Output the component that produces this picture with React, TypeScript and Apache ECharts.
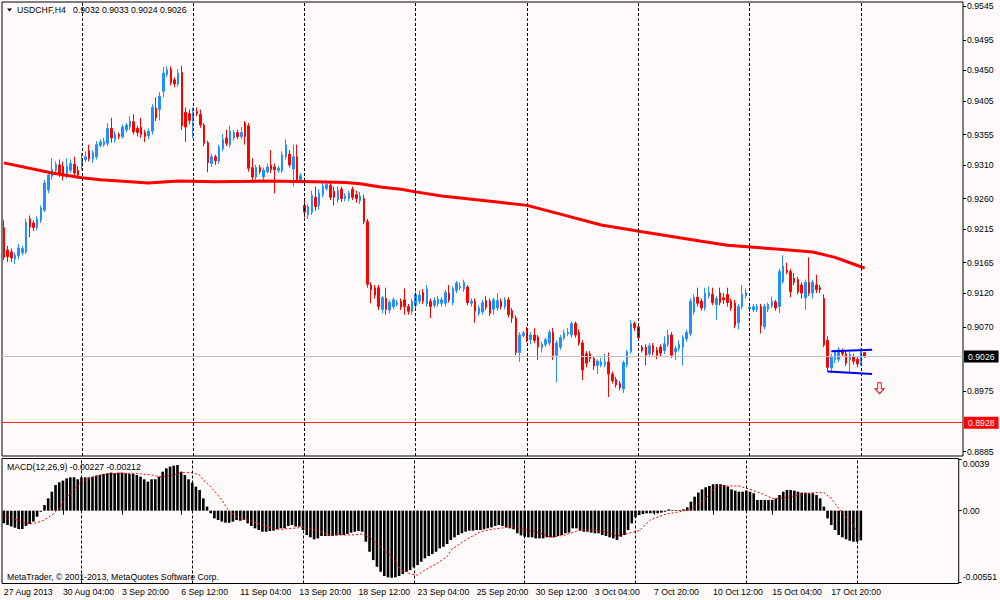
import React, { useEffect, useRef } from "react";
import * as echarts from "echarts";

const FONT = "'Liberation Sans', Arial, sans-serif";
const FS = 8.7;

// bars: [open, high, low, close]
const candles: number[][] = [
  [0.9217,0.9228,0.9169,0.9173],[0.9184,0.9190,0.9166,0.9174],[0.9181,0.9186,0.9166,0.9172],[0.9171,0.9180,0.9163,0.9176],[0.9175,0.9193,0.9170,0.9187],
  [0.9180,0.9190,0.9176,0.9186],[0.9181,0.9230,0.9178,0.9225],[0.9230,0.9235,0.9203,0.9218],[0.9224,0.9228,0.9212,0.9217],[0.9217,0.9234,0.9213,0.9230],
  [0.9228,0.9250,0.9224,0.9246],[0.9243,0.9288,0.9240,0.9283],[0.9273,0.9300,0.9268,0.9295],[0.9293,0.9320,0.9288,0.9303],[0.9302,0.9315,0.9298,0.9311],
  [0.9310,0.9318,0.9292,0.9298],[0.9308,0.9315,0.9287,0.9293],[0.9297,0.9320,0.9290,0.9308],[0.9302,0.9318,0.9298,0.9312],[0.9311,0.9322,0.9294,0.9298],
  [0.9302,0.9308,0.9290,0.9295],[0.9308,0.9328,0.9303,0.9320],[0.9318,0.9330,0.9314,0.9322],[0.9331,0.9340,0.9315,0.9319],[0.9319,0.9332,0.9313,0.9328],
  [0.9322,0.9345,0.9318,0.9340],[0.9339,0.9348,0.9336,0.9344],[0.9340,0.9350,0.9337,0.9345],[0.9342,0.9372,0.9338,0.9364],[0.9364,0.9380,0.9343,0.9350],
  [0.9348,0.9360,0.9343,0.9355],[0.9355,0.9358,0.9348,0.9352],[0.9352,0.9370,0.9349,0.9366],[0.9362,0.9372,0.9358,0.9369],[0.9366,0.9382,0.9362,0.9375],
  [0.9374,0.9385,0.9355,0.9359],[0.9364,0.9368,0.9352,0.9358],[0.9366,0.9380,0.9350,0.9355],[0.9358,0.9362,0.9344,0.9352],[0.9353,0.9364,0.9348,0.9360],
  [0.9360,0.9400,0.9355,0.9395],[0.9394,0.9410,0.9375,0.9380],[0.9392,0.9418,0.9376,0.9412],[0.9419,0.9455,0.9410,0.9446],[0.9444,0.9456,0.9440,0.9451],
  [0.9452,0.9456,0.9428,0.9432],[0.9436,0.9440,0.9425,0.9430],[0.9430,0.9452,0.9426,0.9446],[0.9447,0.9457,0.9362,0.9368],[0.9388,0.9395,0.9344,0.9366],
  [0.9386,0.9392,0.9370,0.9376],[0.9377,0.9395,0.9350,0.9388],[0.9389,0.9395,0.9382,0.9386],[0.9385,0.9392,0.9365,0.9369],[0.9369,0.9372,0.9338,0.9342],
  [0.9343,0.9346,0.9299,0.9313],[0.9312,0.9326,0.9307,0.9322],[0.9322,0.9325,0.9310,0.9316],[0.9316,0.9340,0.9312,0.9336],[0.9334,0.9356,0.9330,0.9348],
  [0.9350,0.9362,0.9338,0.9342],[0.9340,0.9368,0.9336,0.9360],[0.9350,0.9362,0.9346,0.9358],[0.9358,0.9362,0.9348,0.9352],[0.9352,0.9366,0.9348,0.9358],
  [0.9372,0.9375,0.9340,0.9352],[0.9368,0.9372,0.9300,0.9305],[0.9306,0.9320,0.9283,0.9292],[0.9292,0.9310,0.9288,0.9306],[0.9306,0.9310,0.9296,0.9300],
  [0.9292,0.9306,0.9288,0.9302],[0.9300,0.9312,0.9297,0.9307],[0.9310,0.9332,0.9298,0.9303],[0.9307,0.9312,0.9268,0.9303],[0.9302,0.9309,0.9298,0.9305],
  [0.9301,0.9330,0.9298,0.9325],[0.9322,0.9348,0.9318,0.9340],[0.9326,0.9332,0.9306,0.9310],[0.9304,0.9340,0.9278,0.9322],[0.9322,0.9340,0.9283,0.9288],
  [0.9287,0.9298,0.9283,0.9294],[0.9250,0.9258,0.9232,0.9240],[0.9236,0.9252,0.9230,0.9248],[0.9240,0.9272,0.9236,0.9265],[0.9262,0.9278,0.9242,0.9248],
  [0.9250,0.9274,0.9244,0.9268],[0.9266,0.9284,0.9262,0.9278],[0.9275,0.9285,0.9272,0.9281],[0.9280,0.9285,0.9258,0.9262],[0.9271,0.9278,0.9250,0.9262],
  [0.9258,0.9278,0.9254,0.9272],[0.9274,0.9278,0.9255,0.9260],[0.9260,0.9268,0.9256,0.9264],[0.9260,0.9272,0.9256,0.9268],[0.9274,0.9278,0.9258,0.9262],
  [0.9266,0.9272,0.9254,0.9260],[0.9257,0.9270,0.9252,0.9264],[0.9260,0.9266,0.9222,0.9226],[0.9226,0.9230,0.9128,0.9133],[0.9132,0.9136,0.9105,0.9125],
  [0.9128,0.9132,0.9112,0.9117],[0.9128,0.9132,0.9095,0.9100],[0.9096,0.9116,0.9090,0.9113],[0.9112,0.9128,0.9088,0.9096],[0.9095,0.9110,0.9090,0.9106],
  [0.9100,0.9114,0.9096,0.9110],[0.9103,0.9110,0.9100,0.9106],[0.9108,0.9112,0.9095,0.9099],[0.9110,0.9127,0.9088,0.9100],[0.9100,0.9104,0.9088,0.9093],
  [0.9093,0.9112,0.9088,0.9108],[0.9102,0.9122,0.9098,0.9118],[0.9108,0.9124,0.9104,0.9117],[0.9121,0.9126,0.9104,0.9108],[0.9104,0.9132,0.9100,0.9126],
  [0.9108,0.9112,0.9083,0.9100],[0.9102,0.9114,0.9098,0.9109],[0.9104,0.9116,0.9100,0.9111],[0.9105,0.9114,0.9100,0.9110],[0.9105,0.9125,0.9100,0.9121],
  [0.9120,0.9132,0.9106,0.9110],[0.9106,0.9130,0.9102,0.9127],[0.9124,0.9138,0.9120,0.9135],[0.9128,0.9136,0.9124,0.9130],[0.9126,0.9140,0.9122,0.9136],
  [0.9129,0.9132,0.9102,0.9106],[0.9105,0.9112,0.9100,0.9108],[0.9108,0.9112,0.9076,0.9093],[0.9090,0.9102,0.9086,0.9098],[0.9092,0.9110,0.9088,0.9106],
  [0.9109,0.9116,0.9095,0.9099],[0.9108,0.9112,0.9086,0.9090],[0.9096,0.9113,0.9088,0.9110],[0.9098,0.9120,0.9094,0.9109],[0.9108,0.9112,0.9096,0.9100],
  [0.9100,0.9114,0.9096,0.9110],[0.9110,0.9114,0.9084,0.9088],[0.9094,0.9098,0.9076,0.9083],[0.9083,0.9087,0.9028,0.9032],[0.9032,0.9062,0.9018,0.9058],
  [0.9057,0.9064,0.9054,0.9061],[0.9066,0.9070,0.9047,0.9051],[0.9051,0.9062,0.9044,0.9058],[0.9058,0.9068,0.9046,0.9050],[0.9055,0.9058,0.9021,0.9040],
  [0.9039,0.9048,0.9032,0.9044],[0.9044,0.9054,0.9040,0.9051],[0.9046,0.9066,0.9042,0.9062],[0.9062,0.9068,0.9021,0.9028],[0.9028,0.9050,0.8988,0.9046],
  [0.9040,0.9058,0.9036,0.9054],[0.9053,0.9066,0.9050,0.9061],[0.9060,0.9068,0.9056,0.9062],[0.9058,0.9078,0.9054,0.9075],[0.9075,0.9078,0.9054,0.9058],
  [0.9062,0.9066,0.9042,0.9046],[0.9046,0.9050,0.8991,0.9006],[0.9030,0.9034,0.9010,0.9016],[0.9030,0.9034,0.9018,0.9023],[0.9023,0.9026,0.9006,0.9012],
  [0.9013,0.9022,0.9000,0.9019],[0.9013,0.9024,0.9010,0.9018],[0.9014,0.9030,0.9010,0.9018],[0.9018,0.9032,0.8966,0.9000],[0.9000,0.9004,0.8986,0.8990],
  [0.8992,0.8996,0.8980,0.8984],[0.8986,0.8990,0.8976,0.8980],[0.8978,0.9020,0.8972,0.9017],[0.9014,0.9036,0.9010,0.9033],[0.9033,0.9080,0.9030,0.9075],
  [0.9075,0.9078,0.9064,0.9069],[0.9070,0.9074,0.9050,0.9054],[0.9040,0.9043,0.9032,0.9035],[0.9040,0.9044,0.9013,0.9028],[0.9030,0.9046,0.9026,0.9042],
  [0.9042,0.9046,0.9028,0.9033],[0.9036,0.9040,0.9022,0.9028],[0.9040,0.9044,0.9026,0.9031],[0.9035,0.9056,0.9030,0.9045],[0.9044,0.9066,0.9040,0.9058],
  [0.9058,0.9062,0.9024,0.9028],[0.9033,0.9042,0.9021,0.9038],[0.9038,0.9050,0.9034,0.9044],[0.9040,0.9058,0.9013,0.9054],[0.9052,0.9066,0.9048,0.9062],
  [0.9060,0.9112,0.9056,0.9108],[0.9092,0.9118,0.9088,0.9114],[0.9114,0.9128,0.9100,0.9105],[0.9108,0.9112,0.9094,0.9098],[0.9098,0.9128,0.9094,0.9120],
  [0.9116,0.9130,0.9112,0.9121],[0.9118,0.9128,0.9102,0.9106],[0.9103,0.9116,0.9080,0.9112],[0.9120,0.9128,0.9102,0.9106],[0.9113,0.9120,0.9104,0.9110],
  [0.9118,0.9128,0.9100,0.9106],[0.9108,0.9112,0.9094,0.9098],[0.9105,0.9110,0.9068,0.9072],[0.9076,0.9104,0.9066,0.9100],[0.9100,0.9132,0.9096,0.9118],
  [0.9116,0.9127,0.9112,0.9121],[0.9097,0.9104,0.9092,0.9099],[0.9095,0.9104,0.9092,0.9100],[0.9096,0.9104,0.9092,0.9100],[0.9100,0.9104,0.9060,0.9072],
  [0.9070,0.9104,0.9066,0.9100],[0.9096,0.9106,0.9092,0.9103],[0.9101,0.9115,0.9098,0.9108],[0.9107,0.9110,0.9094,0.9098],[0.9100,0.9156,0.9090,0.9152],
  [0.9137,0.9176,0.9134,0.9160],[0.9154,0.9165,0.9148,0.9151],[0.9152,0.9156,0.9114,0.9122],[0.9142,0.9150,0.9132,0.9136],[0.9140,0.9144,0.9118,0.9122],
  [0.9132,0.9136,0.9112,0.9120],[0.9113,0.9140,0.9095,0.9136],[0.9136,0.9173,0.9116,0.9120],[0.9120,0.9140,0.9112,0.9136],[0.9132,0.9147,0.9120,0.9125],
  [0.9128,0.9132,0.9120,0.9125],[0.9112,0.9118,0.9040,0.9043],[0.9050,0.9056,0.9004,0.9010],[0.9009,0.9030,0.9002,0.9025],[0.9022,0.9036,0.9016,0.9033],
  [0.9022,0.9040,0.9018,0.9036],[0.9034,0.9038,0.9026,0.9030],[0.9030,0.9034,0.9012,0.9016],[0.9021,0.9033,0.9002,0.9029],[0.9026,0.9030,0.9014,0.9019],
  [0.9022,0.9026,0.9010,0.9015],[0.9017,0.9038,0.9012,0.9034],[0.9032,0.9033,0.9024,0.9026],
];

// moving average readings: [bar index, price]
const maPoints: number[][] = [
  [0,0.9313],[13,0.9298],[21,0.9291],[26,0.9288],[39,0.9283],[47,0.9286],[57,0.9285],[70,0.9286],
  [84,0.9285],[92,0.9284],[96,0.9282],[102,0.9277],[107,0.9274],[111,0.9270],[118,0.9264],[133,0.9255],
  [141,0.9250],[150,0.9237],[161,0.9221],[172,0.9211],[188,0.9197],[195,0.9191],[202,0.9188],[209,0.9185],
  [218,0.9181],[224,0.9173],[228,0.9165],[232,0.9157],
];

// MACD main (histogram), one per bar
const macdMain: number[] = [
  -0.00097,-0.00110,-0.00122,-0.00130,-0.00140,-0.00140,-0.00117,-0.00102,-0.00084,-0.00046,
  -0.00008,0.00043,0.00094,0.00145,0.00196,0.00217,0.00230,0.00247,0.00255,0.00255,
  0.00240,0.00255,0.00255,0.00255,0.00260,0.00268,0.00273,0.00281,0.00286,0.00291,
  0.00286,0.00291,0.00291,0.00286,0.00281,0.00281,0.00273,0.00260,0.00240,0.00222,
  0.00240,0.00240,0.00260,0.00298,0.00324,0.00337,0.00344,0.00349,0.00298,0.00273,
  0.00240,0.00214,0.00184,0.00158,0.00094,0.00031,-0.00020,-0.00059,-0.00071,-0.00084,
  -0.00092,-0.00092,-0.00084,-0.00071,-0.00077,-0.00071,-0.00097,-0.00117,-0.00135,-0.00148,
  -0.00161,-0.00161,-0.00156,-0.00153,-0.00143,-0.00135,-0.00135,-0.00117,-0.00110,-0.00122,
  -0.00122,-0.00148,-0.00186,-0.00204,-0.00219,-0.00212,-0.00194,-0.00194,-0.00194,-0.00194,
  -0.00189,-0.00186,-0.00186,-0.00179,-0.00168,-0.00161,-0.00156,-0.00161,-0.00237,-0.00314,
  -0.00378,-0.00429,-0.00467,-0.00500,-0.00510,-0.00513,-0.00510,-0.00500,-0.00485,-0.00467,
  -0.00454,-0.00434,-0.00416,-0.00390,-0.00365,-0.00347,-0.00332,-0.00314,-0.00288,-0.00276,
  -0.00255,-0.00224,-0.00204,-0.00186,-0.00173,-0.00161,-0.00153,-0.00153,-0.00148,-0.00148,
  -0.00143,-0.00135,-0.00128,-0.00117,-0.00110,-0.00117,-0.00128,-0.00135,-0.00143,-0.00173,
  -0.00189,-0.00199,-0.00204,-0.00204,-0.00212,-0.00212,-0.00212,-0.00204,-0.00204,-0.00204,
  -0.00194,-0.00186,-0.00173,-0.00168,-0.00135,-0.00135,-0.00153,-0.00161,-0.00161,-0.00168,
  -0.00173,-0.00173,-0.00186,-0.00194,-0.00204,-0.00212,-0.00224,-0.00199,-0.00186,-0.00148,
  -0.00097,-0.00051,-0.00033,-0.00026,-0.00020,-0.00020,-0.00020,-0.00020,-0.00015,-0.00008,
  0.00010,0.00005,0.00005,0.00005,0.00010,0.00026,0.00069,0.00107,0.00138,0.00163,
  0.00179,0.00189,0.00202,0.00204,0.00202,0.00196,0.00184,0.00163,0.00153,0.00145,
  0.00145,0.00153,0.00145,0.00133,0.00082,0.00082,0.00082,0.00082,0.00082,0.00094,
  0.00120,0.00145,0.00158,0.00158,0.00153,0.00145,0.00138,0.00138,0.00133,0.00133,
  0.00120,0.00094,0.00031,-0.00059,-0.00110,-0.00148,-0.00186,-0.00204,-0.00219,-0.00230,
  -0.00237,-0.00237,-0.00227,
];

// MACD signal readings: [bar index, value]
const macdSignal: number[][] = [
  [0,-0.00033],[4,-0.00077],[7,-0.00102],[9,-0.00092],[11,-0.00071],[13,-0.00033],[15,0.00018],[16,0.00069],
  [18,0.00133],[21,0.00222],[24,0.00255],[26,0.00273],[29,0.00281],[32,0.00286],[35,0.00286],[37,0.00281],
  [40,0.00273],[42,0.00260],[45,0.00265],[48,0.00291],[51,0.00291],[53,0.00273],[54,0.00235],[56,0.00184],
  [59,0.00082],[61,-0.00008],[64,-0.00059],[67,-0.00077],[70,-0.00110],[72,-0.00128],[75,-0.00143],[78,-0.00135],
  [81,-0.00128],[85,-0.00153],[88,-0.00186],[94,-0.00186],[97,-0.00179],[99,-0.00204],[102,-0.00276],[105,-0.00352],
  [107,-0.00441],[110,-0.00485],[112,-0.00492],[114,-0.00454],[117,-0.00408],[120,-0.00352],[121,-0.00301],[125,-0.00224],
  [129,-0.00161],[132,-0.00143],[136,-0.00128],[138,-0.00122],[141,-0.00143],[145,-0.00168],[148,-0.00204],[152,-0.00186],
  [156,-0.00148],[159,-0.00148],[163,-0.00161],[166,-0.00194],[169,-0.00173],[172,-0.00153],[175,-0.00071],[179,-0.00028],
  [183,-0.00008],[186,0.00010],[190,0.00094],[193,0.00184],[195,0.00189],[199,0.00189],[202,0.00163],[205,0.00133],
  [208,0.00094],[210,0.00094],[213,0.00107],[216,0.00128],[219,0.00138],[222,0.00138],[224,0.00094],[227,-0.00020],
  [230,-0.00110],[232,-0.00212],
];

const tickIdx = [0, 16, 32, 48, 64, 80, 96, 112, 128, 144, 160, 176, 192, 208, 224];
const tickText = [
  "27 Aug 2013", "30 Aug 04:00", "3 Sep 20:00", "6 Sep 12:00", "11 Sep 04:00", "13 Sep 20:00",
  "18 Sep 12:00", "23 Sep 04:00", "25 Sep 20:00", "30 Sep 12:00", "3 Oct 04:00", "7 Oct 20:00",
  "10 Oct 12:00", "15 Oct 04:00", "17 Oct 20:00",
];
const separatorIdx = [21, 51, 81, 111, 141, 171, 201, 231];

const priceTicks = [0.9545, 0.9495, 0.945, 0.9405, 0.9355, 0.931, 0.926, 0.9215, 0.9165, 0.912, 0.907, 0.8975, 0.8885];
const bidPrice = 0.9026;
const levelPrice = 0.8928;
const channelUpper = [[223, 0.9034], [234, 0.9036]];
const channelLower = [[222, 0.9004], [234, 0.9000]];
const arrowPoint = [236, 0.8979];
const macdTicks = [0.0039, 0, -0.00551];
const macdTickText = ["0.0039", "0.00", "-0.00551"];

const TOTAL_SLOTS = 259;
const categories = Array.from({ length: TOTAL_SLOTS }, (_, i) => String(i));

export default function App() {
  const ref = useRef<HTMLDivElement>(null);
  useEffect(() => {
    document.body.style.margin = "0";
    if (!ref.current) return;
    const chart = echarts.init(ref.current, undefined, { renderer: "svg" });
    const sepLines = (color: string) =>
      separatorIdx.map((i) => ({ xAxis: i, lineStyle: { color, type: [3, 2], width: 1 } }));
    const valueLabel = (text: string, bg: string) => ({
      show: true,
      position: "end",
      distance: 1,
      formatter: text,
      color: "#fff",
      backgroundColor: bg,
      padding: [2, 4, 1, 4],
      fontSize: FS,
      fontFamily: FONT,
    });
    const isTick = (index: number) => tickIdx.indexOf(index) >= 0;
    const option: any = {
      animation: false,
      backgroundColor: "#FFFAFA",
      textStyle: { fontFamily: FONT, fontSize: FS, color: "#000" },
      grid: [
        { left: 2, right: 37, top: 2, height: 454, show: true, borderColor: "#000", borderWidth: 1, backgroundColor: "transparent" },
        { left: 2, right: 37, top: 458.5, height: 125, show: true, borderColor: "#000", borderWidth: 1, backgroundColor: "transparent" },
      ],
      xAxis: [
        {
          type: "category", gridIndex: 0, data: categories, boundaryGap: true,
          axisLine: { show: false }, axisTick: { show: false }, axisLabel: { show: false }, splitLine: { show: false },
        },
        {
          type: "category", gridIndex: 1, data: categories, boundaryGap: true,
          axisLine: { show: false }, splitLine: { show: false },
          axisTick: { show: true, interval: (i: number) => isTick(i), alignWithLabel: true, length: 4, lineStyle: { color: "#000" } },
          axisLabel: {
            show: true, interval: (i: number) => isTick(i), align: "left", margin: 4,
            fontSize: FS, fontFamily: FONT, color: "#000",
            formatter: (v: string) => {
              const k = tickIdx.indexOf(Number(v));
              return k >= 0 ? tickText[k] : "";
            },
          },
        },
      ],
      yAxis: [
        {
          type: "value", gridIndex: 0, position: "right", min: 0.88786, max: 0.95514,
          splitLine: { show: false }, axisLine: { show: false },
          axisTick: { show: true, length: 3, customValues: priceTicks, lineStyle: { color: "#000" } },
          axisLabel: {
            show: true, customValues: priceTicks, margin: 4, fontSize: FS, fontFamily: FONT, color: "#000",
            formatter: (v: number) => v.toFixed(4),
          },
        },
        {
          type: "value", gridIndex: 1, position: "right", min: -0.00557, max: 0.00399,
          splitLine: { show: false }, axisLine: { show: false },
          axisTick: { show: true, length: 3, customValues: macdTicks, lineStyle: { color: "#000" } },
          axisLabel: {
            show: true, customValues: macdTicks, margin: 4, fontSize: FS, fontFamily: FONT, color: "#000",
            formatter: (v: number) => {
              let best = 0;
              macdTicks.forEach((t, k) => { if (Math.abs(t - v) < Math.abs(macdTicks[best] - v)) best = k; });
              if (best === 0) return "{t|" + macdTickText[0] + "}";
              if (best === 2) return "{b|" + macdTickText[2] + "}";
              return macdTickText[1];
            },
            rich: {
              t: { padding: [9, 0, 0, 0], fontSize: FS, fontFamily: FONT, color: "#000" },
              b: { padding: [0, 0, 11, 0], fontSize: FS, fontFamily: FONT, color: "#000" },
            },
          },
        },
      ],
      series: [
        {
          type: "candlestick", xAxisIndex: 0, yAxisIndex: 0, barWidth: 2,
          data: candles.map(([o, h, l, c]) => [o, c, l, h]),
          itemStyle: {
            color: "#1E90FF", color0: "#FF0000", borderColor: "#1E90FF", borderColor0: "#FF0000",
            borderColorDoji: "#1E90FF", borderWidth: 1,
          },
          markLine: {
            silent: true, symbol: ["none", "none"], label: { show: false }, precision: 5,
            data: [
              ...sepLines("#000"),
              [
                { coord: channelUpper[0], lineStyle: { color: "#0000FF", type: "solid", width: 2 } },
                { coord: channelUpper[1] },
              ],
              [
                { coord: channelLower[0], lineStyle: { color: "#0000FF", type: "solid", width: 2 } },
                { coord: channelLower[1] },
              ],
            ],
          },
          markPoint: {
            silent: true,
            label: { show: false },
            data: [
              {
                coord: arrowPoint,
                symbol: "path://M3,0L7,0L7,6L10,6L5,11L0,6L3,6Z",
                symbolSize: [9, 11],
                itemStyle: { color: "rgba(0,0,0,0)", borderColor: "#FF0000", borderWidth: 1 },
              },
            ],
          },
        },
        {
          type: "line", xAxisIndex: 0, yAxisIndex: 0, data: maPoints, symbol: "none", z: 4,
          lineStyle: { color: "#FF0000", width: 3 },
          markLine: {
            silent: true, symbol: ["none", "none"], label: { show: false }, precision: 5,
            data: [
              { yAxis: bidPrice, lineStyle: { color: "#C0C0C0", type: "solid", width: 1 }, label: valueLabel("0.9026", "#000") },
              { yAxis: levelPrice, lineStyle: { color: "#FF2020", type: "solid", width: 1 }, label: valueLabel("0.8928", "#FF0000") },
            ],
          },
        },
        {
          type: "bar", xAxisIndex: 1, yAxisIndex: 1, data: macdMain, barWidth: 2.6,
          itemStyle: { color: "#000" },
          markLine: { silent: true, symbol: ["none", "none"], label: { show: false }, data: sepLines("#000") },
        },
        {
          type: "line", xAxisIndex: 1, yAxisIndex: 1, data: macdSignal, symbol: "none", z: 4,
          lineStyle: { color: "#FF0000", width: 1, type: [2, 2] },
        },
      ],
      graphic: [
        { type: "polygon", shape: { points: [[7, 8.5], [12, 8.5], [9.5, 11.5]] }, style: { fill: "#000" } },
        { type: "text", x: 17, y: 10, style: { text: "USDCHF,H4", fontSize: FS, fontFamily: FONT, fill: "#000", verticalAlign: "middle" } },
        { type: "text", x: 73, y: 10, style: { text: "0.9032 0.9033 0.9024 0.9026", fontSize: FS, fontFamily: FONT, fill: "#000", verticalAlign: "middle" } },
        { type: "text", x: 7, y: 466.5, style: { text: "MACD(12,26,9) -0.00227 -0.00212", fontSize: FS, fontFamily: FONT, fill: "#000", verticalAlign: "middle" } },
        { type: "text", x: 7, y: 577, style: { text: "MetaTrader, © 2001-2013, MetaQuotes Software Corp.", fontSize: FS, fontFamily: FONT, fill: "#000", verticalAlign: "middle" } },
      ],
    };
    chart.setOption(option);
    return () => chart.dispose();
  }, []);
  return <div ref={ref} style={{ width: 1000, height: 600, position: "absolute", left: 0, top: 0 }} />;
}
